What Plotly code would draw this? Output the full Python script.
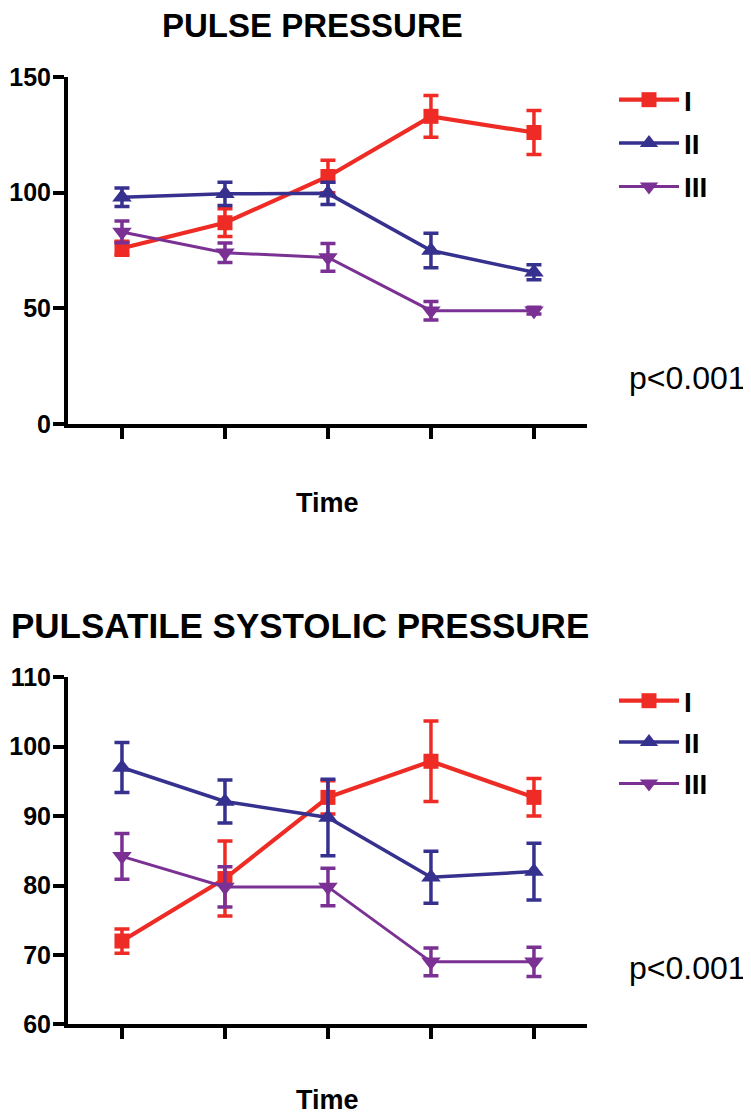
import plotly.graph_objects as go

# ---------------- data ----------------
time_points = [1, 2, 3, 4, 5]
group_names = ["I", "II", "III"]

pp_I = [76, 87, 107, 133, 126]
pp_I_err = [3, 6, 7, 9, 9.5]
pp_II = [98, 99.5, 99.7, 75, 65.6]
pp_II_err = [4, 5, 4.8, 7.5, 3.2]
pp_III = [83, 74, 72, 49, 49]
pp_III_err = [4.7, 4.2, 6, 4, 1.5]

psp_I = [72.0, 81.0, 92.7, 97.9, 92.7]
psp_I_err = [1.75, 5.4, 2.4, 5.8, 2.7]
psp_II = [97.0, 92.1, 89.8, 81.2, 82.0]
psp_II_err = [3.6, 3.1, 5.5, 3.75, 4.1]
psp_III = [84.2, 79.8, 79.8, 69.0, 69.0]
psp_III_err = [3.3, 2.9, 2.7, 2.0, 2.1]

top_ticks = [0, 50, 100, 150]
bottom_ticks = [60, 70, 80, 90, 100, 110]

# ---------------- styling ----------------
W, H = 751, 1113
OFF = 8  # page body offset of the figure in the browser
FONT = "Liberation Sans, Arial, Helvetica, sans-serif"
colors = ["#EE2B24", "#36308F", "#7B3193"]
symbols = ["square", "triangle-up", "triangle-down"]
msizes = [15, 17, 17]
lwidths = [4.2, 3.5, 3]


def px_x(p):
    return (p - OFF) / W


def px_y(p):
    return 1 - (p - OFF) / H


fig = go.Figure()

series_top = [(pp_I, pp_I_err), (pp_II, pp_II_err), (pp_III, pp_III_err)]
series_bot = [(psp_I, psp_I_err), (psp_II, psp_II_err), (psp_III, psp_III_err)]

for i, (vals, errs) in enumerate(series_top):
    fig.add_trace(go.Scatter(
        x=time_points, y=vals, name=group_names[i], mode="lines+markers",
        line=dict(color=colors[i], width=lwidths[i]),
        marker=dict(symbol=symbols[i], size=msizes[i], color=colors[i]),
        error_y=dict(type="data", array=errs, visible=True, color=colors[i],
                     thickness=3.5, width=7.5),
        xaxis="x", yaxis="y", legend="legend", legendgroup="t" + str(i),
    ))

for i, (vals, errs) in enumerate(series_bot):
    fig.add_trace(go.Scatter(
        x=time_points, y=vals, name=group_names[i], mode="lines+markers",
        line=dict(color=colors[i], width=lwidths[i]),
        marker=dict(symbol=symbols[i], size=msizes[i], color=colors[i]),
        error_y=dict(type="data", array=errs, visible=True, color=colors[i],
                     thickness=3.5, width=7.5),
        xaxis="x2", yaxis="y2", legend="legend2", legendgroup="b" + str(i),
    ))

x_dom = [px_x(68), px_x(587)]
x_range = [0.476, 5.515]

axis_common = dict(
    showline=True, linecolor="black", linewidth=4, mirror=False,
    showgrid=False, zeroline=False, ticks="outside", tickcolor="black",
    tickwidth=4, ticklen=11, automargin=False,
    tickfont=dict(family=FONT, size=25, color="black", weight="bold"),
)

legend_common = dict(
    xanchor="left", yanchor="top", itemwidth=60,
    font=dict(family=FONT, size=28, color="black", weight="bold"),
    bgcolor="rgba(0,0,0,0)",
)

fig.update_layout(
    width=W, height=H,
    margin=dict(l=0, r=0, t=0, b=0, pad=0, autoexpand=False),
    paper_bgcolor="white", plot_bgcolor="white",
    xaxis=dict(domain=x_dom, range=x_range, tickvals=time_points,
               showticklabels=False, anchor="y", **axis_common),
    yaxis=dict(domain=[px_y(424), px_y(77)], range=[0, 150],
               tickvals=top_ticks, anchor="x", ticklabelstandoff=-3,
               **axis_common),
    xaxis2=dict(domain=x_dom, range=x_range, tickvals=time_points,
                showticklabels=False, anchor="y2", **axis_common),
    yaxis2=dict(domain=[px_y(1024.3), px_y(677.3)], range=[60, 110],
                tickvals=bottom_ticks, anchor="x2", ticklabelstandoff=-3,
                **axis_common),
    legend=dict(x=px_x(614), y=px_y(75), tracegroupgap=4, **legend_common),
    legend2=dict(x=px_x(614), y=px_y(676), tracegroupgap=2, **legend_common),
    showlegend=True,
)

annots = [
    dict(text="PULSE PRESSURE", x=px_x(312), y=px_y(25), size=33, bold=True),
    dict(text="PULSATILE SYSTOLIC PRESSURE", x=px_x(300), y=px_y(625), size=35, bold=True),
    dict(text="Time", x=px_x(327), y=px_y(503), size=27, bold=True),
    dict(text="Time", x=px_x(327), y=px_y(1100), size=27, bold=True),
]
for a in annots:
    fig.add_annotation(
        text=a["text"], x=a["x"], y=a["y"], xref="paper", yref="paper",
        xanchor="center", yanchor="middle", showarrow=False,
        font=dict(family=FONT, size=a["size"], color="black",
                  weight="bold" if a["bold"] else "normal"),
    )
for yy in [378, 968]:
    fig.add_annotation(
        text="p<0.001", x=px_x(748), y=px_y(yy), xref="paper", yref="paper",
        xanchor="right", yanchor="middle", showarrow=False,
        font=dict(family=FONT, size=32, color="black"),
    )

fig.write_html("out.html")
